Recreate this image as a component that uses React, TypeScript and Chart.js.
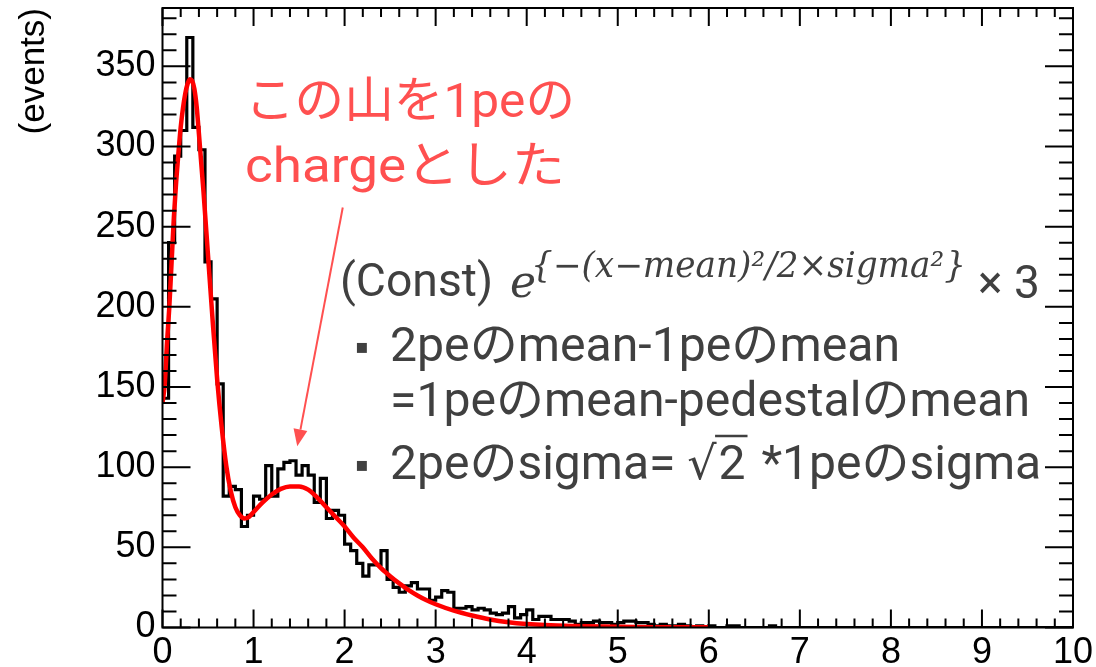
import { useEffect, useRef } from 'react';
import { Chart, registerables } from 'chart.js';

Chart.register(...registerables);

// Histogram binning: 150 bins over [0, 10]; counts listed up to the last filled bin
const BIN_WIDTH = 10 / 150;
const COUNTS = [
  143, 240, 294, 310, 368, 312, 298, 228, 205, 152,
  82, 88, 86, 63, 70, 82, 80, 101, 82, 99,
  103, 104, 95, 101, 95, 78, 93, 68, 73, 70,
  52, 48, 40, 32, 39, 39, 48, 30, 25, 22,
  26, 28, 24, 24, 17, 19, 23, 22, 12, 12,
  13, 11, 12, 11, 9, 8, 9, 13, 6, 8,
  11, 5, 7, 7, 5, 5, 5, 4, 2, 3,
  3, 4, 3, 3, 2, 3, 4, 4, 3, 3,
  2, 1, 2, 1, 1, 2, 1, 0, 1, 0,
  1, 0, 0, 1, 1, 0, 0, 0, 0, 0,
  1,
];

// Fitted curve (pedestal + 1pe + 2pe gaussians), sampled along x
const FIT_X = [
  0, 0.025, 0.05, 0.075, 0.1, 0.125, 0.15, 0.175, 0.2, 0.225,
  0.25, 0.275, 0.3, 0.325, 0.35, 0.375, 0.4, 0.45, 0.5, 0.55,
  0.6, 0.65, 0.7, 0.75, 0.8, 0.85, 0.9, 0.95, 1.0, 1.1,
  1.2, 1.3, 1.4, 1.5, 1.6, 1.7, 1.8, 1.9, 2.0, 2.1,
  2.2, 2.3, 2.4, 2.5, 2.6, 2.7, 2.8, 2.9, 3.0, 3.2,
  3.4, 3.6, 3.8, 4.0, 4.2, 4.5, 5.0, 5.5, 6.0,
];
const FIT_Y = [
  140, 152, 178, 200, 228, 256, 278, 296, 312, 324,
  333, 339, 342, 341, 336, 325, 308, 272, 232, 192,
  155, 125, 101, 85, 75, 70, 68, 69, 72, 78,
  83, 86.5, 88, 88, 86, 81, 75, 69, 63, 56,
  50, 43, 37, 32, 27.5, 23.5, 20, 17, 14.5, 10.5,
  7.5, 5, 3.3, 2.2, 1.5, 0.9, 0.4, 0.2, 0.1,
];

const X_TICKS = [0, 1, 2, 3, 4, 5, 6, 7, 8, 9, 10];
const X_TICK_LABELS = ['0', '1', '2', '3', '4', '5', '6', '7', '8', '9', '10'];
const Y_TICKS = [0, 50, 100, 150, 200, 250, 300, 350];
const Y_TICK_LABELS = ['0', '50', '100', '150', '200', '250', '300', '350'];
const Y_MAX = 386.4;
const Y_TITLE = '(events)';

const NOTE_LINES = ['この山を1peの', 'chargeとした'];
const FORMULA_LEAD = '(Const)';
const FORMULA_BASE = 'e';
const FORMULA_EXP = '{−(x−mean)²/2×sigma²}';
const FORMULA_TAIL = '× 3';
const RULE_1A = '2peのmean-1peのmean';
const RULE_1B = '=1peのmean-pedestalのmean';
const RULE_2_HEAD = '2peのsigma= ';
const RULE_2_ROOT = '√';
const RULE_2_RADICAND = '2';
const RULE_2_TAIL = ' *1peのsigma';
const BULLET = '▪';

// arrow from the note down to the 1pe bump, in data coordinates
const ARROW_FROM = { x: 1.98, y: 262 };
const ARROW_TO = { x: 1.48, y: 113 };

const NOTE_RED = '#ff5050';
const TEXT_GREY = '#404040';
const SANS = 'Roboto, "Noto Sans CJK JP", sans-serif';
const SERIF = '"DejaVu Serif", serif';

function buildHistogramPoints() {
  const pts: { x: number; y: number }[] = COUNTS.map((c, k) => ({ x: k * BIN_WIDTH, y: c }));
  pts.push({ x: COUNTS.length * BIN_WIDTH, y: 0 });
  pts.push({ x: 10, y: 0 });
  return pts;
}

const framePlugin = {
  id: 'frameTicks',
  afterDatasetsDraw(chart: any) {
    const { ctx, chartArea: a, scales } = chart;
    const x = scales.x;
    const y = scales.y;
    ctx.save();
    ctx.strokeStyle = '#000';
    ctx.lineWidth = 2;
    ctx.strokeRect(a.left, a.top, a.right - a.left, a.bottom - a.top);
    ctx.beginPath();
    for (let i = 0; i <= 50; i++) {
      const px = x.getPixelForValue(i * 0.2);
      const len = i % 5 === 0 ? 18 : 9;
      ctx.moveTo(px, a.bottom);
      ctx.lineTo(px, a.bottom - len);
      ctx.moveTo(px, a.top);
      ctx.lineTo(px, a.top + len);
    }
    for (let i = 0; i * 10 <= Y_MAX; i++) {
      const py = y.getPixelForValue(i * 10);
      const len = i % 5 === 0 ? 28 : 14;
      ctx.moveTo(a.left, py);
      ctx.lineTo(a.left + len, py);
      ctx.moveTo(a.right, py);
      ctx.lineTo(a.right - len, py);
    }
    ctx.stroke();

    // y axis title, rotated, flush with the top of the frame
    ctx.fillStyle = '#000';
    ctx.font = '35px "Liberation Sans", Arial, sans-serif';
    ctx.translate(44, a.top);
    ctx.rotate(-Math.PI / 2);
    ctx.textAlign = 'right';
    ctx.textBaseline = 'alphabetic';
    ctx.fillText(Y_TITLE, 0, 0);
    ctx.restore();
  },
};

// draws a run of text starting at x and returns where it ends
function run(ctx: CanvasRenderingContext2D, text: string, font: string, x: number, y: number) {
  ctx.font = font;
  ctx.fillText(text, x, y);
  return x + ctx.measureText(text).width;
}

// draws text squeezed or stretched horizontally to span the given width
function runFit(ctx: CanvasRenderingContext2D, text: string, font: string, x: number, y: number, width: number) {
  ctx.font = font;
  const w = ctx.measureText(text).width;
  ctx.save();
  ctx.translate(x, y);
  ctx.scale(width / w, 1);
  ctx.fillText(text, 0, 0);
  ctx.restore();
  return x + width;
}

const notesPlugin = {
  id: 'notes',
  afterDraw(chart: any) {
    const { ctx, scales } = chart;
    const sx = scales.x;
    const sy = scales.y;
    ctx.save();
    ctx.textAlign = 'left';
    ctx.textBaseline = 'alphabetic';

    // red note with arrow
    ctx.fillStyle = NOTE_RED;
    runFit(ctx, NOTE_LINES[0], `49px ${SANS}`, 245, 117, 330);
    runFit(ctx, NOTE_LINES[1], `49px ${SANS}`, 245, 182, 320);

    const x0 = sx.getPixelForValue(ARROW_FROM.x);
    const y0 = sy.getPixelForValue(ARROW_FROM.y);
    const x1 = sx.getPixelForValue(ARROW_TO.x);
    const y1 = sy.getPixelForValue(ARROW_TO.y);
    const ang = Math.atan2(y1 - y0, x1 - x0);
    const headLen = 17;
    const headHalf = 7;
    const bx = x1 - headLen * Math.cos(ang);
    const by = y1 - headLen * Math.sin(ang);
    ctx.strokeStyle = NOTE_RED;
    ctx.lineWidth = 2;
    ctx.beginPath();
    ctx.moveTo(x0, y0);
    ctx.lineTo(bx, by);
    ctx.stroke();
    ctx.beginPath();
    ctx.moveTo(x1, y1);
    ctx.lineTo(bx + headHalf * Math.sin(ang), by - headHalf * Math.cos(ang));
    ctx.lineTo(bx - headHalf * Math.sin(ang), by + headHalf * Math.cos(ang));
    ctx.closePath();
    ctx.fill();

    // fit function
    ctx.fillStyle = TEXT_GREY;
    runFit(ctx, FORMULA_LEAD, `46px ${SANS}`, 340, 296, 153);
    run(ctx, FORMULA_BASE, `italic 44px ${SERIF}`, 510, 297);
    runFit(ctx, FORMULA_EXP, `italic 35px ${SERIF}`, 531, 277, 435);
    run(ctx, FORMULA_TAIL, `46px ${SANS}`, 978, 298);

    // bullets
    ctx.font = `20px "DejaVu Sans", sans-serif`;
    ctx.fillText(BULLET, 355, 353);
    ctx.fillText(BULLET, 355, 471);

    runFit(ctx, RULE_1A, `48px ${SANS}`, 390, 361, 510);
    runFit(ctx, RULE_1B, `48px ${SANS}`, 390, 416, 640);

    let cx = run(ctx, RULE_2_HEAD, `48px ${SANS}`, 390, 479);
    const rootFont = `46px ${SERIF}`;
    ctx.font = rootFont;
    const rootW = ctx.measureText(RULE_2_ROOT).width;
    cx = run(ctx, RULE_2_ROOT, rootFont, cx, 479);
    const radStart = cx;
    cx = run(ctx, RULE_2_RADICAND, `48px ${SANS}`, cx + 2, 479);
    ctx.strokeStyle = TEXT_GREY;
    ctx.lineWidth = 2.5;
    ctx.beginPath();
    ctx.moveTo(radStart - rootW * 0.05, 436);
    ctx.lineTo(cx + 2, 436);
    ctx.stroke();
    run(ctx, RULE_2_TAIL, `48px ${SANS}`, cx + 4, 479);

    ctx.restore();
  },
};

export default function App() {
  const ref = useRef<HTMLCanvasElement>(null);

  useEffect(() => {
    document.body.style.margin = '0';
    const canvas = ref.current;
    if (!canvas) return;
    const tickFont = { family: '"Liberation Sans", Arial, sans-serif', size: 36 };
    const chart = new Chart(canvas, {
      type: 'line',
      data: {
        datasets: [
          {
            data: FIT_X.map((x, i) => ({ x, y: FIT_Y[i] })),
            borderColor: '#ff0000',
            borderWidth: 4.5,
            pointRadius: 0,
            cubicInterpolationMode: 'monotone',
            fill: false,
          },
          {
            data: buildHistogramPoints(),
            borderColor: '#000000',
            borderWidth: 3.2,
            pointRadius: 0,
            stepped: 'before',
            fill: false,
          },
        ],
      },
      options: {
        animation: false,
        responsive: false,
        maintainAspectRatio: false,
        events: [],
        layout: { padding: { top: 8, right: 23, left: 0, bottom: 0 } },
        plugins: { legend: { display: false }, tooltip: { enabled: false } },
        scales: {
          x: {
            type: 'linear',
            min: 0,
            max: 10,
            grid: { display: false, drawTicks: false },
            border: { display: false },
            afterBuildTicks: (s: any) => {
              s.ticks = X_TICKS.map((v) => ({ value: v }));
            },
            afterFit: (s: any) => {
              s.height = 39.5;
              s.paddingLeft = 0;
              s.paddingRight = 0;
            },
            ticks: {
              font: tickFont,
              color: '#000',
              padding: 4,
              maxRotation: 0,
              autoSkip: false,
              callback: (_v: any, i: number) => X_TICK_LABELS[i],
            },
          },
          y: {
            type: 'linear',
            min: 0,
            max: Y_MAX,
            grid: { display: false, drawTicks: false },
            border: { display: false },
            afterBuildTicks: (s: any) => {
              s.ticks = Y_TICKS.map((v) => ({ value: v }));
            },
            afterFit: (s: any) => {
              s.width = 162.5;
              s.paddingTop = 0;
              s.paddingBottom = 0;
            },
            ticks: {
              font: tickFont,
              color: '#000',
              padding: 7,
              autoSkip: false,
              callback: (_v: any, i: number) => Y_TICK_LABELS[i],
            },
          },
        },
      },
      plugins: [framePlugin, notesPlugin],
    } as any);
    return () => chart.destroy();
  }, []);

  return <canvas ref={ref} width={1096} height={667} style={{ display: 'block' }} />;
}
